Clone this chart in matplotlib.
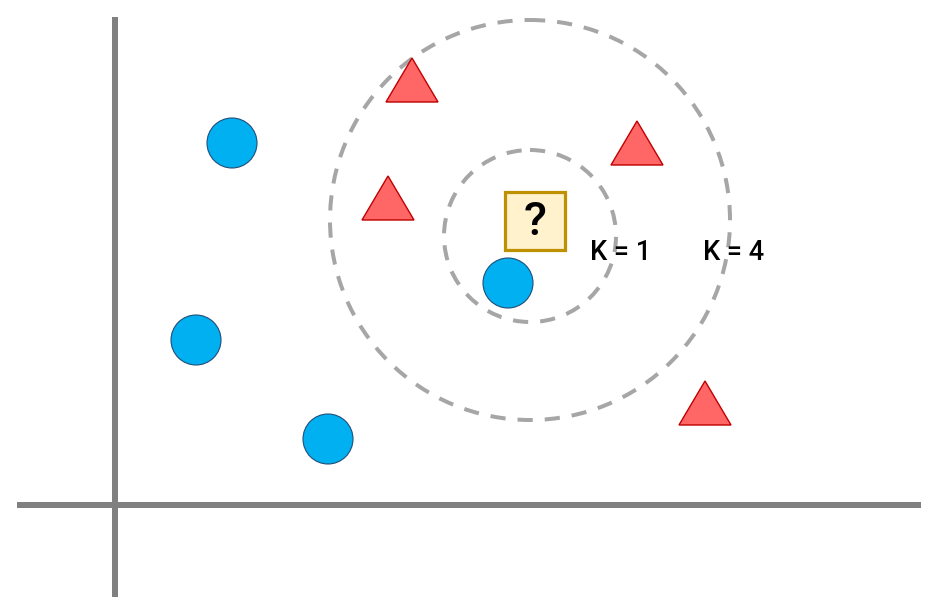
import matplotlib
matplotlib.use("Agg")
import matplotlib.pyplot as plt
from matplotlib.patches import Circle, Polygon, Rectangle

W, H = 935, 608
# data (pixel-like coordinate space, y downward)
blue_x = [232, 196, 328, 508]
blue_y = [143, 340, 439, 283]
red_x = [412, 388, 637, 705]
red_y = [80, 198, 143, 403]
query_x, query_y = 535, 221
k_labels = ["K = 1", "K = 4"]
k_radius = [86, 200]
k_center_y = [236, 220]
k_center_x = [530, 530]
k_label_x = [621, 734]
k_label_y = [252, 252]

fig = plt.figure(figsize=(W / 100, H / 100), dpi=100)
ax = fig.add_axes([0, 0, 1, 1])
ax.set_xlim(0, W)
ax.set_ylim(H, 0)
ax.axis("off")

px = 72 / 100
# axes lines
ax.plot([115, 115], [17, 597], color="#808080", lw=6 * px, solid_capstyle="butt", zorder=1)
ax.plot([17, 921], [505, 505], color="#808080", lw=6 * px, solid_capstyle="butt", zorder=1)

# dashed neighbourhood circles
for cx, cy, r in zip(k_center_x, k_center_y, k_radius):
    ax.add_patch(Circle((cx, cy), r, fill=False, edgecolor="#A6A6A6", lw=4 * px,
                        linestyle=(0, (3.8, 3.0)), zorder=2))

# blue circles
for x, y in zip(blue_x, blue_y):
    ax.add_patch(Circle((x, y), 25, facecolor="#00B0F0", edgecolor="#1F4E79", lw=0.8, zorder=3))

# red triangles
tw, th = 52, 44
for x, y in zip(red_x, red_y):
    pts = [(x, y - th / 2), (x - tw / 2, y + th / 2), (x + tw / 2, y + th / 2)]
    ax.add_patch(Polygon(pts, closed=True, facecolor="#FF6666", edgecolor="#C00000", lw=1.0, zorder=3))

# query square
ax.add_patch(Rectangle((query_x - 30, query_y - 29), 60, 58, facecolor="#FFF2CC",
                       edgecolor="#BF9000", lw=3.2 * px, zorder=4))
ax.text(query_x, query_y + 1, "?", ha="center", va="center", fontsize=34,
        fontweight="medium", family="Roboto", color="black", zorder=5)

for lab, lx, ly in zip(k_labels, k_label_x, k_label_y):
    ax.text(lx, ly, lab, ha="center", va="center", fontsize=19.5, family="Roboto",
            fontweight="medium", color="black", zorder=5)

fig.savefig("out.png", dpi=100)
